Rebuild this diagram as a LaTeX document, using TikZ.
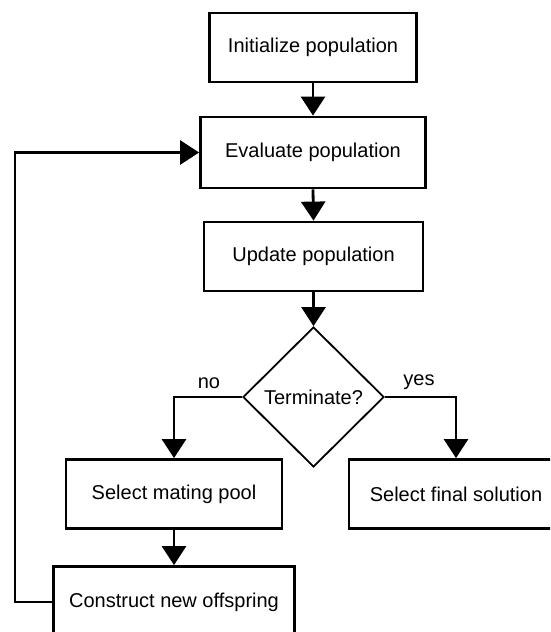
\documentclass[tikz,border=0pt]{standalone}
\usepackage{fontspec}
\setmainfont{Liberation Sans}
\usetikzlibrary{arrows.meta,shapes.geometric}

\tikzset{
  procbox/.style={draw, line width=2.8pt, rectangle, inner sep=0pt,
    minimum height=69pt, font=\fontsize{20}{24}\selectfont},
  decision/.style={draw, line width=1.8pt, diamond, aspect=1, inner sep=0pt,
    minimum width=141pt, minimum height=140pt, font=\fontsize{20}{24}\selectfont},
  flow/.style={line width=2.8pt, -{Triangle[length=19pt,width=24pt]}},
  branchlabel/.style={font=\fontsize{20}{24}\selectfont, inner sep=0pt},
}

\begin{document}
\begin{tikzpicture}[x=1pt, y=-1pt]
  \useasboundingbox (0,0) rectangle (550,632);
  \fill[white] (0,0) rectangle (550,632);
  \clip (0,0) rectangle (550,632);

  % main column
  \node[procbox, minimum width=207pt] (init)   at (313,47.5)  {Initialize population};
  \node[procbox, minimum width=225pt, minimum height=71pt] (eval) at (313,152.5) {Evaluate population};
  \node[procbox, minimum width=219pt] (update) at (313.5,256.5) {Update population};
  \node[decision] (term) at (313.5,397) {Terminate?};

  % branches
  \node[procbox, minimum width=216pt] (mating)  at (174,494)  {Select mating pool};
  \node[procbox, minimum width=214pt] (final)   at (456,494)  {Select final solution};
  \node[procbox, minimum width=241pt, minimum height=71pt] (offspring) at (174,602) {Construct new offspring};

  \coordinate (loopleft) at (15,602);

  % connectors
  \draw[flow] (init.south) -- (eval.north);
  \draw[flow] (eval.south) -- (update.north);
  \draw[flow] (update.south) -- (term.north);
  \draw[flow] (term.west) -| (mating.north);
  \draw[flow] (term.east) -| (final.north);
  \draw[flow] (mating.south) -- (offspring.north);
  \draw[flow] (offspring.west) -- (loopleft) |- (eval.west);

  % branch labels
  \node[branchlabel] (nolabel)  at (209,383) {no};
  \node[branchlabel] (yeslabel) at (419,382) {yes};
\end{tikzpicture}
\end{document}
